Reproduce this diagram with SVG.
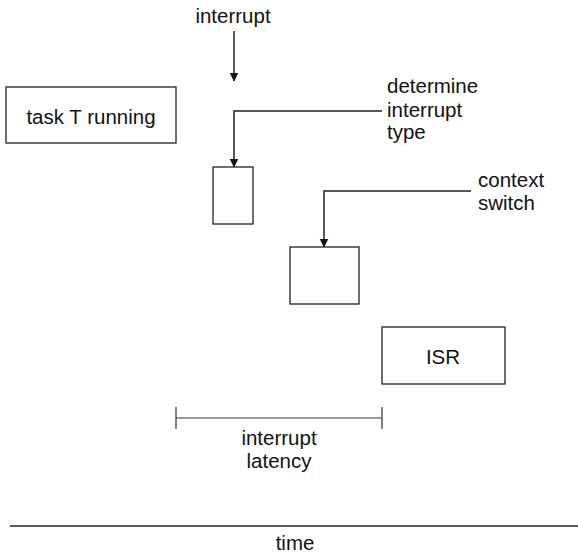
<svg xmlns="http://www.w3.org/2000/svg" width="578" height="554" viewBox="0 0 578 554">
<style>
text{font-family:"Liberation Sans",Arial,sans-serif;font-size:20.5px;fill:#111}
.box{fill:#fff;stroke:#222;stroke-width:1.3}
.ln{fill:none;stroke:#222;stroke-width:1.5}
.thin{fill:none;stroke:#333;stroke-width:1.2}
</style>
<defs>
<marker id="ah" viewBox="0 0 9 10" refX="8.5" refY="5" markerWidth="9" markerHeight="10" markerUnits="userSpaceOnUse" orient="auto">
<path d="M0,0.5 L9,5 L0,9.5 Z" fill="#111"/>
</marker>
</defs>
<g id="connectors">
<path class="ln" d="M234,31 V81" marker-end="url(#ah)"/>
<path class="ln" d="M382,111 H234 V167" marker-end="url(#ah)"/>
<path class="ln" d="M471,191 H324 V247" marker-end="url(#ah)"/>
</g>
<g id="label-interrupt"><text x="233" y="23" text-anchor="middle">interrupt</text></g>
<g id="task"><rect class="box" x="6" y="87" width="170" height="56"/><text x="91" y="124" text-anchor="middle">task T running</text></g>
<g id="label-determine"><text x="387" y="93">determine</text><text x="387" y="117">interrupt</text><text x="387" y="139">type</text></g>
<g id="determine-box"><rect class="box" x="213" y="167" width="40" height="57"/></g>
<g id="label-context"><text x="478" y="187">context</text><text x="478" y="210">switch</text></g>
<g id="context-box"><rect class="box" x="290" y="247" width="69" height="57"/></g>
<g id="isr"><rect class="box" x="382" y="327" width="123" height="57"/><text x="443" y="364" text-anchor="middle">ISR</text></g>
<g id="latency">
<path class="thin" d="M176,418 H382 M176,407 V429 M382,407 V429"/>
<text x="279" y="445" text-anchor="middle">interrupt</text>
<text x="279" y="468" text-anchor="middle">latency</text>
</g>
<g id="time">
<path class="ln" d="M10,526 H578"/>
<text x="295" y="550" text-anchor="middle">time</text>
</g>
</svg>
